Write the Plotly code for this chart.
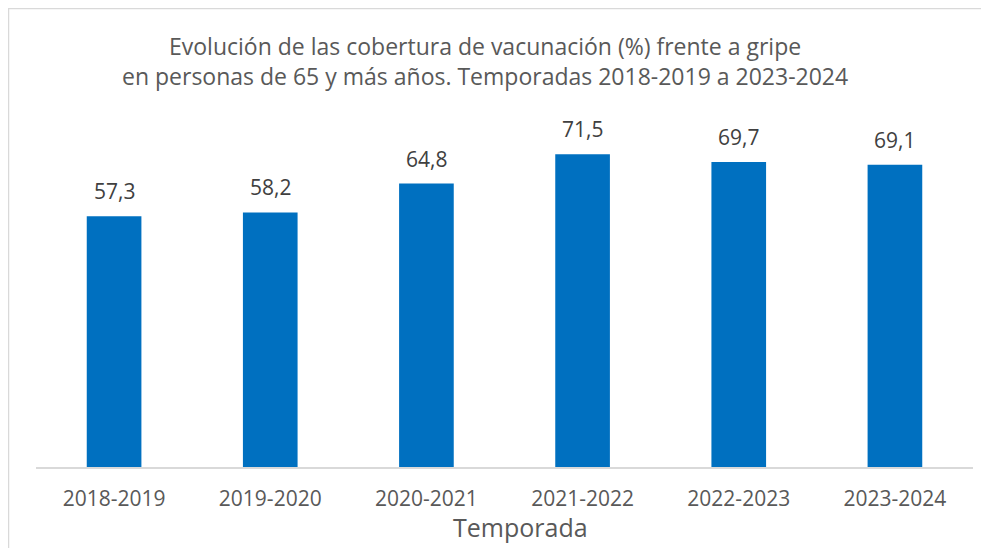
import plotly.graph_objects as go

temporadas = ["2018-2019", "2019-2020", "2020-2021", "2021-2022", "2022-2023", "2023-2024"]
cobertura = [57.3, 58.2, 64.8, 71.5, 69.7, 69.1]
etiquetas = [f"{v:.1f}".replace(".", ",") for v in cobertura]

# page has an 8px body margin, so the figure starts at (8, 8)
W, H = 981, 540
L, R, T, B = 28, 16, 109, 81
pw, ph = W - L - R, H - T - B

FONT = "Open Sans"

fig = go.Figure(go.Bar(
    x=temporadas, y=cobertura, marker_color="#0070C0",
    marker_line_width=0, hoverinfo="skip"))

for t, v, lab in zip(temporadas, cobertura, etiquetas):
    fig.add_annotation(x=t, y=v, text=lab, showarrow=False, yanchor="bottom",
                       yshift=9, font=dict(family=FONT, size=21, color="#404040"))

fig.add_annotation(xref="paper", yref="paper", x=(477 - L) / pw, y=1 + (T - 53) / ph,
                   text="Evolución de las cobertura de vacunación (%) frente a gripe<br>"
                        "en personas de 65 y más años. Temporadas 2018-2019 a 2023-2024",
                   showarrow=False, xanchor="center", yanchor="middle",
                   font=dict(family=FONT, size=23, color="#595959"))

# x axis title
fig.add_annotation(xref="paper", yref="paper", x=(512 - L) / pw, y=-(519 - (T + ph)) / ph,
                   text="Temporada", showarrow=False, xanchor="center", yanchor="middle",
                   font=dict(family=FONT, size=25, color="#595959"))

# chart border (top and left)
fig.add_shape(type="line", xref="paper", yref="paper",
              x0=-L / pw, x1=1 + R / pw, y0=1 + T / ph, y1=1 + T / ph,
              line=dict(color="#d9d9d9", width=2.5))
fig.add_shape(type="line", xref="paper", yref="paper",
              x0=-L / pw, x1=-L / pw, y0=1 + T / ph, y1=-B / ph,
              line=dict(color="#d9d9d9", width=2.5))

fig.update_layout(
    width=W, height=H, margin=dict(l=L, r=R, t=T, b=B, autoexpand=False),
    plot_bgcolor="white", paper_bgcolor="white",
    bargap=0.65, showlegend=False,
    xaxis=dict(showline=True, linecolor="#d9d9d9", linewidth=1.5, automargin=False,
               ticks="outside", ticklen=12, tickcolor="rgba(0,0,0,0)",
               tickfont=dict(family=FONT, size=21, color="#595959")),
    yaxis=dict(range=[0, 80], visible=False, showgrid=False),
)

fig.write_html("out.html")
